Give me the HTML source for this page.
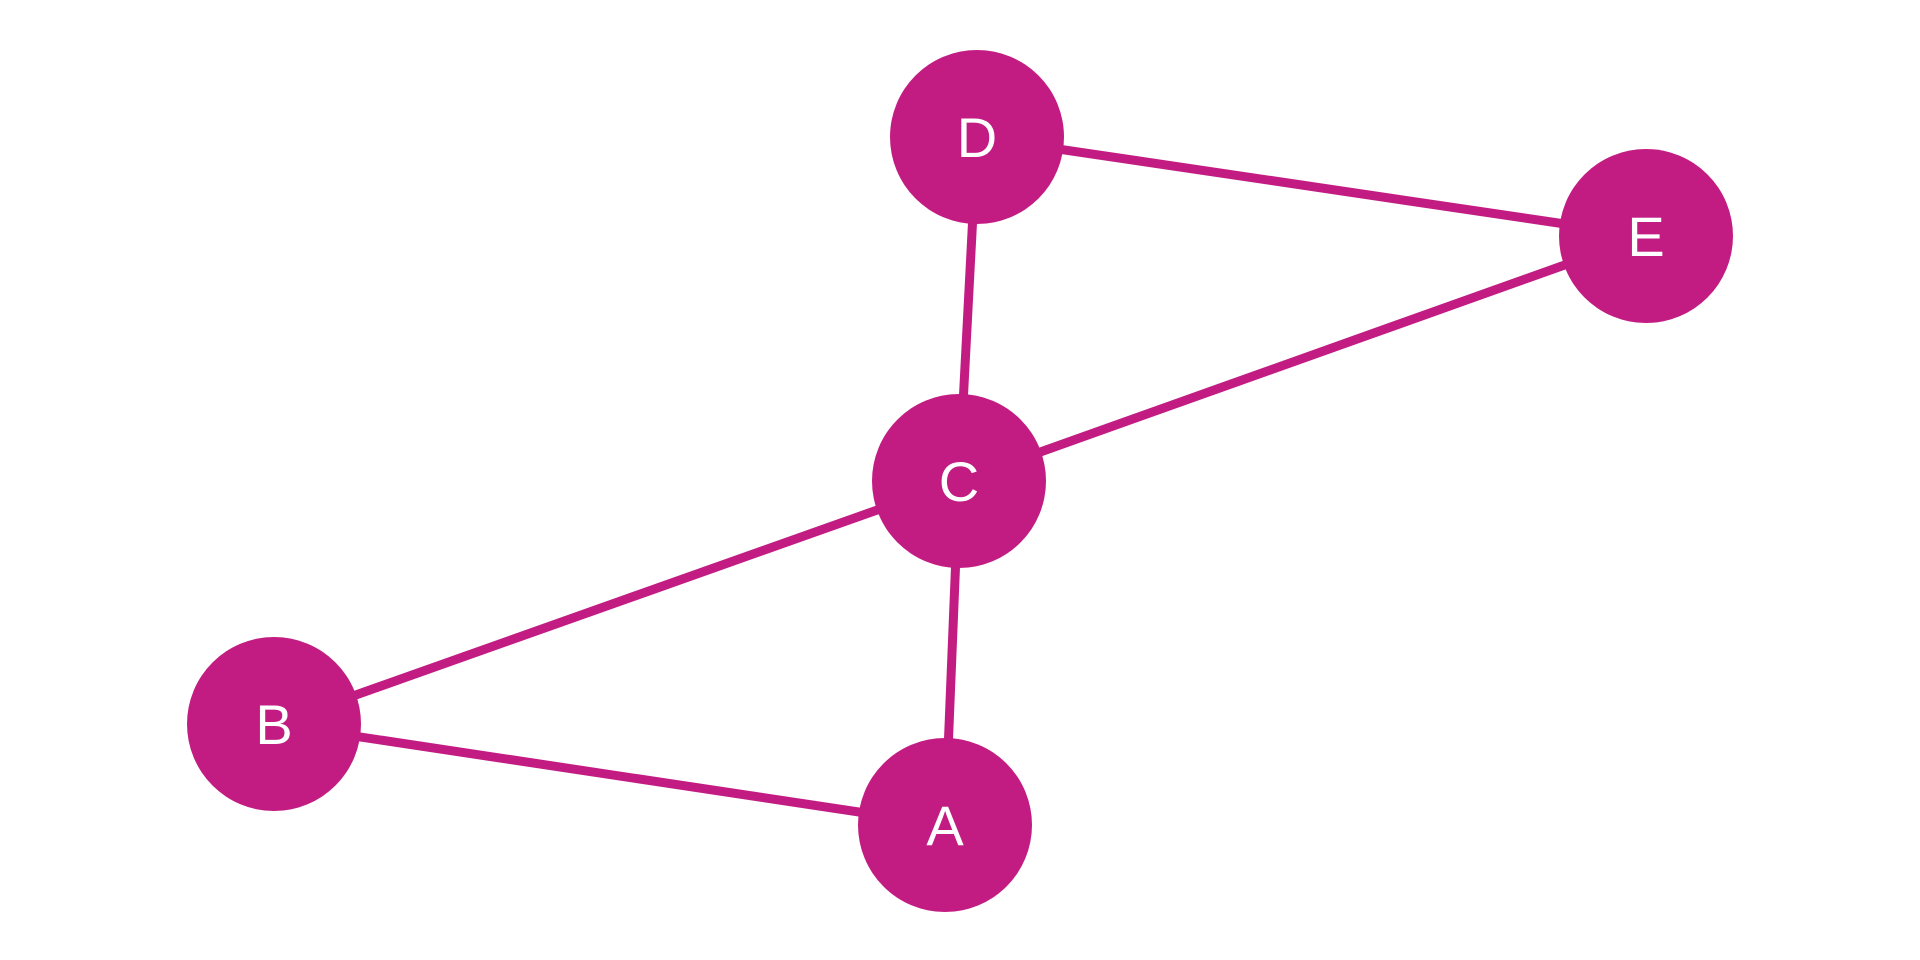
<!DOCTYPE html>
<html><head><style>html,body{margin:0;padding:0;background:#fff;width:1920px;height:960px;overflow:hidden}</style></head>
<body>
<svg width="1920" height="960" xmlns="http://www.w3.org/2000/svg">
<g stroke="#c21c83" stroke-width="9">
<line x1="977" y1="137" x2="1646" y2="236"/>
<line x1="977" y1="137" x2="959" y2="481"/>
<line x1="959" y1="481" x2="1646" y2="236"/>
<line x1="959" y1="481" x2="274" y2="724"/>
<line x1="959" y1="481" x2="945" y2="825"/>
<line x1="274" y1="724" x2="945" y2="825"/>
</g>
<g fill="#c21c83">
<circle cx="977" cy="137" r="87"/>
<circle cx="1646" cy="236" r="87"/>
<circle cx="959" cy="481" r="87"/>
<circle cx="274" cy="724" r="87"/>
<circle cx="945" cy="825" r="87"/>
</g>
<g fill="#fff" font-family="Liberation Sans, sans-serif" font-size="56" text-anchor="middle">
<text x="977" y="157">D</text>
<text x="1646" y="256">E</text>
<text x="959" y="501">C</text>
<text x="274" y="744">B</text>
<text x="945" y="845">A</text>
</g>
</svg>
</body></html>
